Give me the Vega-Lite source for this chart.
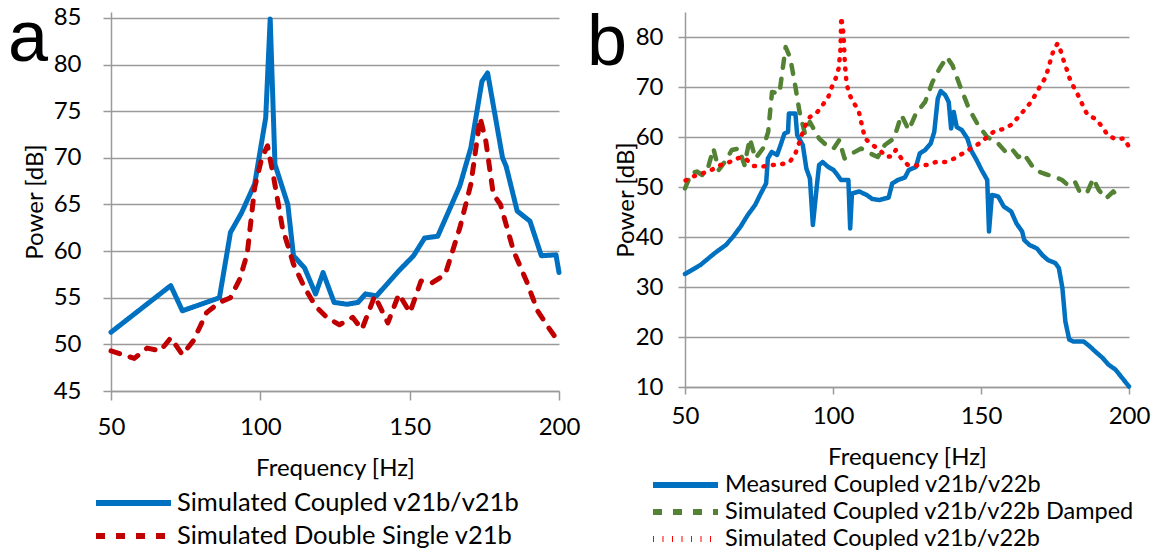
{
  "$schema": "https://vega.github.io/schema/vega-lite/v6.json",
  "background": "white",
  "padding": {"left": 7, "top": 2, "right": 5, "bottom": 5},
  "spacing": 126,
  "bounds": "flush",
  "config": {
    "view": {"stroke": null},
    "axis": {
      "labelFont": "Lato", "labelFontSize": 24, "labelColor": "#000", "labelFlush": false, "labelOverlap": false,
      "titleFont": "Lato", "titleFontSize": 24, "titleColor": "#000", "titleFontWeight": "normal",
      "domainColor": "#9a9a9a", "domainWidth": 1.5, "tickColor": "#9a9a9a", "tickWidth": 1.5, "tickSize": 8,
      "gridColor": "#9a9a9a", "gridWidth": 1.5
    },
    "legend": {
      "labelFont": "Lato", "labelFontSize": 25.5, "labelColor": "#000", "padding": 0, "labelLimit": 600
    }
  },
  "datasets": {
    "a": [
      {"f": 50, "p": 51.3, "s": "Simulated Coupled v21b/v21b"},
      {"f": 70, "p": 56.3, "s": "Simulated Coupled v21b/v21b"},
      {"f": 73.9, "p": 53.6, "s": "Simulated Coupled v21b/v21b"},
      {"f": 86.3, "p": 55.0, "s": "Simulated Coupled v21b/v21b"},
      {"f": 90.0, "p": 62.0, "s": "Simulated Coupled v21b/v21b"},
      {"f": 93.7, "p": 64.1, "s": "Simulated Coupled v21b/v21b"},
      {"f": 98.1, "p": 67.2, "s": "Simulated Coupled v21b/v21b"},
      {"f": 101.8, "p": 74.3, "s": "Simulated Coupled v21b/v21b"},
      {"f": 103.3, "p": 84.9, "s": "Simulated Coupled v21b/v21b"},
      {"f": 104.9, "p": 69.3, "s": "Simulated Coupled v21b/v21b"},
      {"f": 109.2, "p": 65.0, "s": "Simulated Coupled v21b/v21b"},
      {"f": 111.1, "p": 59.5, "s": "Simulated Coupled v21b/v21b"},
      {"f": 114.8, "p": 58.2, "s": "Simulated Coupled v21b/v21b"},
      {"f": 118.5, "p": 55.4, "s": "Simulated Coupled v21b/v21b"},
      {"f": 121.0, "p": 57.7, "s": "Simulated Coupled v21b/v21b"},
      {"f": 124.7, "p": 54.5, "s": "Simulated Coupled v21b/v21b"},
      {"f": 129.0, "p": 54.3, "s": "Simulated Coupled v21b/v21b"},
      {"f": 132.7, "p": 54.5, "s": "Simulated Coupled v21b/v21b"},
      {"f": 135.2, "p": 55.4, "s": "Simulated Coupled v21b/v21b"},
      {"f": 138.9, "p": 55.2, "s": "Simulated Coupled v21b/v21b"},
      {"f": 146.4, "p": 57.9, "s": "Simulated Coupled v21b/v21b"},
      {"f": 151.3, "p": 59.5, "s": "Simulated Coupled v21b/v21b"},
      {"f": 155.0, "p": 61.4, "s": "Simulated Coupled v21b/v21b"},
      {"f": 159.4, "p": 61.6, "s": "Simulated Coupled v21b/v21b"},
      {"f": 163.1, "p": 64.3, "s": "Simulated Coupled v21b/v21b"},
      {"f": 166.8, "p": 67.0, "s": "Simulated Coupled v21b/v21b"},
      {"f": 170.5, "p": 71.1, "s": "Simulated Coupled v21b/v21b"},
      {"f": 174.2, "p": 78.2, "s": "Simulated Coupled v21b/v21b"},
      {"f": 176.1, "p": 79.1, "s": "Simulated Coupled v21b/v21b"},
      {"f": 181.1, "p": 70.0, "s": "Simulated Coupled v21b/v21b"},
      {"f": 182.3, "p": 69.1, "s": "Simulated Coupled v21b/v21b"},
      {"f": 186.0, "p": 64.3, "s": "Simulated Coupled v21b/v21b"},
      {"f": 190.3, "p": 63.2, "s": "Simulated Coupled v21b/v21b"},
      {"f": 194.1, "p": 59.5, "s": "Simulated Coupled v21b/v21b"},
      {"f": 199.0, "p": 59.6, "s": "Simulated Coupled v21b/v21b"},
      {"f": 200, "p": 57.7, "s": "Simulated Coupled v21b/v21b"},
      {"f": 50, "p": 49.3, "s": "Simulated Double Single v21b"},
      {"f": 57.8, "p": 48.5, "s": "Simulated Double Single v21b"},
      {"f": 62.1, "p": 49.6, "s": "Simulated Double Single v21b"},
      {"f": 66.5, "p": 49.3, "s": "Simulated Double Single v21b"},
      {"f": 70.0, "p": 50.7, "s": "Simulated Double Single v21b"},
      {"f": 73.9, "p": 48.9, "s": "Simulated Double Single v21b"},
      {"f": 77.6, "p": 50.4, "s": "Simulated Double Single v21b"},
      {"f": 82.0, "p": 53.4, "s": "Simulated Double Single v21b"},
      {"f": 86.3, "p": 54.5, "s": "Simulated Double Single v21b"},
      {"f": 90.0, "p": 55.0, "s": "Simulated Double Single v21b"},
      {"f": 93.1, "p": 57.0, "s": "Simulated Double Single v21b"},
      {"f": 95.6, "p": 59.7, "s": "Simulated Double Single v21b"},
      {"f": 98.1, "p": 66.8, "s": "Simulated Double Single v21b"},
      {"f": 100.5, "p": 70.0, "s": "Simulated Double Single v21b"},
      {"f": 102.4, "p": 71.3, "s": "Simulated Double Single v21b"},
      {"f": 104.3, "p": 68.2, "s": "Simulated Double Single v21b"},
      {"f": 107.4, "p": 62.5, "s": "Simulated Double Single v21b"},
      {"f": 111.1, "p": 58.6, "s": "Simulated Double Single v21b"},
      {"f": 114.8, "p": 56.1, "s": "Simulated Double Single v21b"},
      {"f": 118.5, "p": 54.1, "s": "Simulated Double Single v21b"},
      {"f": 122.2, "p": 52.9, "s": "Simulated Double Single v21b"},
      {"f": 126.5, "p": 52.1, "s": "Simulated Double Single v21b"},
      {"f": 130.9, "p": 52.9, "s": "Simulated Double Single v21b"},
      {"f": 134.0, "p": 51.6, "s": "Simulated Double Single v21b"},
      {"f": 138.3, "p": 55.2, "s": "Simulated Double Single v21b"},
      {"f": 142.7, "p": 52.3, "s": "Simulated Double Single v21b"},
      {"f": 146.4, "p": 55.4, "s": "Simulated Double Single v21b"},
      {"f": 150.1, "p": 53.4, "s": "Simulated Double Single v21b"},
      {"f": 153.8, "p": 56.8, "s": "Simulated Double Single v21b"},
      {"f": 157.5, "p": 56.6, "s": "Simulated Double Single v21b"},
      {"f": 161.9, "p": 57.5, "s": "Simulated Double Single v21b"},
      {"f": 166.8, "p": 62.5, "s": "Simulated Double Single v21b"},
      {"f": 170.5, "p": 67.2, "s": "Simulated Double Single v21b"},
      {"f": 173.6, "p": 74.3, "s": "Simulated Double Single v21b"},
      {"f": 175.5, "p": 71.8, "s": "Simulated Double Single v21b"},
      {"f": 178.0, "p": 66.1, "s": "Simulated Double Single v21b"},
      {"f": 180.4, "p": 65.0, "s": "Simulated Double Single v21b"},
      {"f": 184.8, "p": 60.0, "s": "Simulated Double Single v21b"},
      {"f": 189.1, "p": 56.8, "s": "Simulated Double Single v21b"},
      {"f": 192.8, "p": 53.6, "s": "Simulated Double Single v21b"},
      {"f": 196.5, "p": 51.8, "s": "Simulated Double Single v21b"},
      {"f": 200, "p": 50.2, "s": "Simulated Double Single v21b"}
    ],
    "b": [
      {"f": 50, "p": 32.6, "s": "Measured Coupled v21b/v22b"},
      {"f": 55.2, "p": 34.4, "s": "Measured Coupled v21b/v22b"},
      {"f": 60.1, "p": 36.8, "s": "Measured Coupled v21b/v22b"},
      {"f": 63.8, "p": 38.4, "s": "Measured Coupled v21b/v22b"},
      {"f": 66.3, "p": 40.1, "s": "Measured Coupled v21b/v22b"},
      {"f": 68.8, "p": 42.1, "s": "Measured Coupled v21b/v22b"},
      {"f": 71.2, "p": 44.4, "s": "Measured Coupled v21b/v22b"},
      {"f": 73.7, "p": 46.4, "s": "Measured Coupled v21b/v22b"},
      {"f": 75.6, "p": 48.7, "s": "Measured Coupled v21b/v22b"},
      {"f": 77.4, "p": 50.7, "s": "Measured Coupled v21b/v22b"},
      {"f": 78.0, "p": 55.7, "s": "Measured Coupled v21b/v22b"},
      {"f": 79.3, "p": 57.0, "s": "Measured Coupled v21b/v22b"},
      {"f": 81.1, "p": 56.4, "s": "Measured Coupled v21b/v22b"},
      {"f": 82.3, "p": 58.4, "s": "Measured Coupled v21b/v22b"},
      {"f": 83.6, "p": 60.7, "s": "Measured Coupled v21b/v22b"},
      {"f": 84.8, "p": 61.0, "s": "Measured Coupled v21b/v22b"},
      {"f": 85.1, "p": 64.7, "s": "Measured Coupled v21b/v22b"},
      {"f": 87.3, "p": 64.7, "s": "Measured Coupled v21b/v22b"},
      {"f": 87.9, "p": 60.4, "s": "Measured Coupled v21b/v22b"},
      {"f": 89.8, "p": 58.4, "s": "Measured Coupled v21b/v22b"},
      {"f": 91.0, "p": 53.7, "s": "Measured Coupled v21b/v22b"},
      {"f": 92.2, "p": 51.7, "s": "Measured Coupled v21b/v22b"},
      {"f": 93.2, "p": 42.4, "s": "Measured Coupled v21b/v22b"},
      {"f": 94.7, "p": 51.1, "s": "Measured Coupled v21b/v22b"},
      {"f": 95.3, "p": 54.4, "s": "Measured Coupled v21b/v22b"},
      {"f": 96.5, "p": 55.0, "s": "Measured Coupled v21b/v22b"},
      {"f": 98.4, "p": 54.0, "s": "Measured Coupled v21b/v22b"},
      {"f": 100.2, "p": 53.4, "s": "Measured Coupled v21b/v22b"},
      {"f": 101.5, "p": 52.4, "s": "Measured Coupled v21b/v22b"},
      {"f": 102.7, "p": 51.4, "s": "Measured Coupled v21b/v22b"},
      {"f": 105.2, "p": 51.4, "s": "Measured Coupled v21b/v22b"},
      {"f": 105.8, "p": 41.7, "s": "Measured Coupled v21b/v22b"},
      {"f": 106.4, "p": 48.7, "s": "Measured Coupled v21b/v22b"},
      {"f": 108.9, "p": 49.1, "s": "Measured Coupled v21b/v22b"},
      {"f": 111.4, "p": 48.4, "s": "Measured Coupled v21b/v22b"},
      {"f": 113.3, "p": 47.6, "s": "Measured Coupled v21b/v22b"},
      {"f": 115.7, "p": 47.4, "s": "Measured Coupled v21b/v22b"},
      {"f": 118.8, "p": 47.9, "s": "Measured Coupled v21b/v22b"},
      {"f": 120.0, "p": 50.7, "s": "Measured Coupled v21b/v22b"},
      {"f": 121.9, "p": 51.4, "s": "Measured Coupled v21b/v22b"},
      {"f": 124.3, "p": 51.9, "s": "Measured Coupled v21b/v22b"},
      {"f": 125.6, "p": 53.4, "s": "Measured Coupled v21b/v22b"},
      {"f": 128.0, "p": 54.0, "s": "Measured Coupled v21b/v22b"},
      {"f": 129.3, "p": 56.7, "s": "Measured Coupled v21b/v22b"},
      {"f": 131.1, "p": 57.4, "s": "Measured Coupled v21b/v22b"},
      {"f": 133.0, "p": 58.7, "s": "Measured Coupled v21b/v22b"},
      {"f": 134.2, "p": 61.0, "s": "Measured Coupled v21b/v22b"},
      {"f": 135.4, "p": 67.7, "s": "Measured Coupled v21b/v22b"},
      {"f": 136.4, "p": 69.2, "s": "Measured Coupled v21b/v22b"},
      {"f": 137.9, "p": 68.4, "s": "Measured Coupled v21b/v22b"},
      {"f": 139.1, "p": 67.0, "s": "Measured Coupled v21b/v22b"},
      {"f": 139.9, "p": 61.7, "s": "Measured Coupled v21b/v22b"},
      {"f": 140.8, "p": 65.0, "s": "Measured Coupled v21b/v22b"},
      {"f": 141.8, "p": 62.0, "s": "Measured Coupled v21b/v22b"},
      {"f": 143.5, "p": 61.4, "s": "Measured Coupled v21b/v22b"},
      {"f": 145.4, "p": 59.7, "s": "Measured Coupled v21b/v22b"},
      {"f": 146.6, "p": 57.4, "s": "Measured Coupled v21b/v22b"},
      {"f": 148.5, "p": 55.4, "s": "Measured Coupled v21b/v22b"},
      {"f": 150.2, "p": 53.4, "s": "Measured Coupled v21b/v22b"},
      {"f": 152.1, "p": 51.4, "s": "Measured Coupled v21b/v22b"},
      {"f": 152.7, "p": 41.1, "s": "Measured Coupled v21b/v22b"},
      {"f": 153.7, "p": 48.4, "s": "Measured Coupled v21b/v22b"},
      {"f": 155.8, "p": 48.1, "s": "Measured Coupled v21b/v22b"},
      {"f": 157.7, "p": 46.1, "s": "Measured Coupled v21b/v22b"},
      {"f": 160.2, "p": 45.1, "s": "Measured Coupled v21b/v22b"},
      {"f": 162.0, "p": 42.7, "s": "Measured Coupled v21b/v22b"},
      {"f": 163.9, "p": 41.1, "s": "Measured Coupled v21b/v22b"},
      {"f": 164.6, "p": 39.4, "s": "Measured Coupled v21b/v22b"},
      {"f": 166.4, "p": 38.4, "s": "Measured Coupled v21b/v22b"},
      {"f": 168.9, "p": 37.7, "s": "Measured Coupled v21b/v22b"},
      {"f": 170.7, "p": 36.4, "s": "Measured Coupled v21b/v22b"},
      {"f": 172.6, "p": 35.4, "s": "Measured Coupled v21b/v22b"},
      {"f": 175.1, "p": 34.8, "s": "Measured Coupled v21b/v22b"},
      {"f": 176.3, "p": 33.8, "s": "Measured Coupled v21b/v22b"},
      {"f": 177.5, "p": 29.8, "s": "Measured Coupled v21b/v22b"},
      {"f": 178.5, "p": 23.1, "s": "Measured Coupled v21b/v22b"},
      {"f": 179.8, "p": 19.5, "s": "Measured Coupled v21b/v22b"},
      {"f": 181.2, "p": 19.1, "s": "Measured Coupled v21b/v22b"},
      {"f": 184.7, "p": 19.1, "s": "Measured Coupled v21b/v22b"},
      {"f": 186.8, "p": 18.1, "s": "Measured Coupled v21b/v22b"},
      {"f": 188.6, "p": 17.1, "s": "Measured Coupled v21b/v22b"},
      {"f": 191.1, "p": 15.8, "s": "Measured Coupled v21b/v22b"},
      {"f": 193.0, "p": 14.5, "s": "Measured Coupled v21b/v22b"},
      {"f": 195.4, "p": 13.5, "s": "Measured Coupled v21b/v22b"},
      {"f": 197.3, "p": 12.1, "s": "Measured Coupled v21b/v22b"},
      {"f": 200, "p": 10.1, "s": "Measured Coupled v21b/v22b"},
      {"f": 50, "p": 49.7, "s": "Simulated Coupled v21b/v22b Damped"},
      {"f": 52.1, "p": 52.7, "s": "Simulated Coupled v21b/v22b Damped"},
      {"f": 54.0, "p": 53.1, "s": "Simulated Coupled v21b/v22b Damped"},
      {"f": 55.8, "p": 52.4, "s": "Simulated Coupled v21b/v22b Damped"},
      {"f": 57.7, "p": 53.7, "s": "Simulated Coupled v21b/v22b Damped"},
      {"f": 59.6, "p": 57.7, "s": "Simulated Coupled v21b/v22b Damped"},
      {"f": 61.4, "p": 53.4, "s": "Simulated Coupled v21b/v22b Damped"},
      {"f": 63.9, "p": 55.4, "s": "Simulated Coupled v21b/v22b Damped"},
      {"f": 65.8, "p": 57.4, "s": "Simulated Coupled v21b/v22b Damped"},
      {"f": 68.2, "p": 57.7, "s": "Simulated Coupled v21b/v22b Damped"},
      {"f": 70.1, "p": 54.4, "s": "Simulated Coupled v21b/v22b Damped"},
      {"f": 71.9, "p": 59.7, "s": "Simulated Coupled v21b/v22b Damped"},
      {"f": 73.8, "p": 55.7, "s": "Simulated Coupled v21b/v22b Damped"},
      {"f": 76.3, "p": 57.7, "s": "Simulated Coupled v21b/v22b Damped"},
      {"f": 78.1, "p": 61.0, "s": "Simulated Coupled v21b/v22b Damped"},
      {"f": 79.4, "p": 69.0, "s": "Simulated Coupled v21b/v22b Damped"},
      {"f": 81.9, "p": 68.7, "s": "Simulated Coupled v21b/v22b Damped"},
      {"f": 84.0, "p": 78.0, "s": "Simulated Coupled v21b/v22b Damped"},
      {"f": 85.6, "p": 75.7, "s": "Simulated Coupled v21b/v22b Damped"},
      {"f": 87.4, "p": 69.7, "s": "Simulated Coupled v21b/v22b Damped"},
      {"f": 88.7, "p": 65.0, "s": "Simulated Coupled v21b/v22b Damped"},
      {"f": 90.5, "p": 60.7, "s": "Simulated Coupled v21b/v22b Damped"},
      {"f": 92.2, "p": 63.0, "s": "Simulated Coupled v21b/v22b Damped"},
      {"f": 95.3, "p": 59.7, "s": "Simulated Coupled v21b/v22b Damped"},
      {"f": 98.4, "p": 58.0, "s": "Simulated Coupled v21b/v22b Damped"},
      {"f": 100.2, "p": 57.7, "s": "Simulated Coupled v21b/v22b Damped"},
      {"f": 102.1, "p": 59.4, "s": "Simulated Coupled v21b/v22b Damped"},
      {"f": 103.9, "p": 55.7, "s": "Simulated Coupled v21b/v22b Damped"},
      {"f": 106.4, "p": 56.7, "s": "Simulated Coupled v21b/v22b Damped"},
      {"f": 109.5, "p": 57.7, "s": "Simulated Coupled v21b/v22b Damped"},
      {"f": 112.6, "p": 56.7, "s": "Simulated Coupled v21b/v22b Damped"},
      {"f": 115.1, "p": 56.0, "s": "Simulated Coupled v21b/v22b Damped"},
      {"f": 117.5, "p": 58.4, "s": "Simulated Coupled v21b/v22b Damped"},
      {"f": 120.6, "p": 59.7, "s": "Simulated Coupled v21b/v22b Damped"},
      {"f": 123.1, "p": 64.4, "s": "Simulated Coupled v21b/v22b Damped"},
      {"f": 125.6, "p": 61.4, "s": "Simulated Coupled v21b/v22b Damped"},
      {"f": 128.0, "p": 64.7, "s": "Simulated Coupled v21b/v22b Damped"},
      {"f": 131.1, "p": 67.0, "s": "Simulated Coupled v21b/v22b Damped"},
      {"f": 133.6, "p": 71.0, "s": "Simulated Coupled v21b/v22b Damped"},
      {"f": 136.0, "p": 73.7, "s": "Simulated Coupled v21b/v22b Damped"},
      {"f": 138.5, "p": 76.0, "s": "Simulated Coupled v21b/v22b Damped"},
      {"f": 140.4, "p": 74.3, "s": "Simulated Coupled v21b/v22b Damped"},
      {"f": 142.8, "p": 70.4, "s": "Simulated Coupled v21b/v22b Damped"},
      {"f": 145.9, "p": 65.7, "s": "Simulated Coupled v21b/v22b Damped"},
      {"f": 149.0, "p": 62.4, "s": "Simulated Coupled v21b/v22b Damped"},
      {"f": 152.1, "p": 60.0, "s": "Simulated Coupled v21b/v22b Damped"},
      {"f": 155.8, "p": 58.7, "s": "Simulated Coupled v21b/v22b Damped"},
      {"f": 158.8, "p": 56.7, "s": "Simulated Coupled v21b/v22b Damped"},
      {"f": 160.7, "p": 57.4, "s": "Simulated Coupled v21b/v22b Damped"},
      {"f": 162.6, "p": 56.0, "s": "Simulated Coupled v21b/v22b Damped"},
      {"f": 164.4, "p": 56.7, "s": "Simulated Coupled v21b/v22b Damped"},
      {"f": 168.2, "p": 53.4, "s": "Simulated Coupled v21b/v22b Damped"},
      {"f": 171.2, "p": 52.7, "s": "Simulated Coupled v21b/v22b Damped"},
      {"f": 174.9, "p": 52.0, "s": "Simulated Coupled v21b/v22b Damped"},
      {"f": 177.4, "p": 51.4, "s": "Simulated Coupled v21b/v22b Damped"},
      {"f": 179.3, "p": 50.4, "s": "Simulated Coupled v21b/v22b Damped"},
      {"f": 181.7, "p": 51.1, "s": "Simulated Coupled v21b/v22b Damped"},
      {"f": 183.6, "p": 48.7, "s": "Simulated Coupled v21b/v22b Damped"},
      {"f": 186.0, "p": 49.1, "s": "Simulated Coupled v21b/v22b Damped"},
      {"f": 187.9, "p": 51.7, "s": "Simulated Coupled v21b/v22b Damped"},
      {"f": 189.8, "p": 49.4, "s": "Simulated Coupled v21b/v22b Damped"},
      {"f": 192.2, "p": 47.7, "s": "Simulated Coupled v21b/v22b Damped"},
      {"f": 194.7, "p": 49.1, "s": "Simulated Coupled v21b/v22b Damped"},
      {"f": 197.2, "p": 47.4, "s": "Simulated Coupled v21b/v22b Damped"},
      {"f": 50.2, "p": 51.3, "s": "Simulated Coupled v21b/v22b"},
      {"f": 52.7, "p": 52.1, "s": "Simulated Coupled v21b/v22b"},
      {"f": 55.8, "p": 52.7, "s": "Simulated Coupled v21b/v22b"},
      {"f": 58.9, "p": 53.4, "s": "Simulated Coupled v21b/v22b"},
      {"f": 62.0, "p": 54.4, "s": "Simulated Coupled v21b/v22b"},
      {"f": 65.1, "p": 55.0, "s": "Simulated Coupled v21b/v22b"},
      {"f": 68.1, "p": 55.8, "s": "Simulated Coupled v21b/v22b"},
      {"f": 70.6, "p": 55.6, "s": "Simulated Coupled v21b/v22b"},
      {"f": 73.1, "p": 54.2, "s": "Simulated Coupled v21b/v22b"},
      {"f": 76.2, "p": 54.1, "s": "Simulated Coupled v21b/v22b"},
      {"f": 79.3, "p": 54.4, "s": "Simulated Coupled v21b/v22b"},
      {"f": 82.3, "p": 54.5, "s": "Simulated Coupled v21b/v22b"},
      {"f": 85.4, "p": 55.0, "s": "Simulated Coupled v21b/v22b"},
      {"f": 87.3, "p": 56.7, "s": "Simulated Coupled v21b/v22b"},
      {"f": 88.5, "p": 58.7, "s": "Simulated Coupled v21b/v22b"},
      {"f": 90.4, "p": 62.0, "s": "Simulated Coupled v21b/v22b"},
      {"f": 92.2, "p": 64.0, "s": "Simulated Coupled v21b/v22b"},
      {"f": 94.7, "p": 65.0, "s": "Simulated Coupled v21b/v22b"},
      {"f": 96.5, "p": 66.4, "s": "Simulated Coupled v21b/v22b"},
      {"f": 98.4, "p": 68.0, "s": "Simulated Coupled v21b/v22b"},
      {"f": 99.6, "p": 70.0, "s": "Simulated Coupled v21b/v22b"},
      {"f": 100.9, "p": 71.7, "s": "Simulated Coupled v21b/v22b"},
      {"f": 101.9, "p": 73.7, "s": "Simulated Coupled v21b/v22b"},
      {"f": 102.5, "p": 77.3, "s": "Simulated Coupled v21b/v22b"},
      {"f": 102.8, "p": 84.0, "s": "Simulated Coupled v21b/v22b"},
      {"f": 103.6, "p": 80.3, "s": "Simulated Coupled v21b/v22b"},
      {"f": 104.0, "p": 74.7, "s": "Simulated Coupled v21b/v22b"},
      {"f": 104.6, "p": 70.7, "s": "Simulated Coupled v21b/v22b"},
      {"f": 105.4, "p": 68.7, "s": "Simulated Coupled v21b/v22b"},
      {"f": 106.8, "p": 67.0, "s": "Simulated Coupled v21b/v22b"},
      {"f": 108.6, "p": 65.4, "s": "Simulated Coupled v21b/v22b"},
      {"f": 110.8, "p": 59.7, "s": "Simulated Coupled v21b/v22b"},
      {"f": 113.2, "p": 58.5, "s": "Simulated Coupled v21b/v22b"},
      {"f": 115.7, "p": 57.4, "s": "Simulated Coupled v21b/v22b"},
      {"f": 118.1, "p": 56.0, "s": "Simulated Coupled v21b/v22b"},
      {"f": 120.0, "p": 56.2, "s": "Simulated Coupled v21b/v22b"},
      {"f": 121.2, "p": 57.4, "s": "Simulated Coupled v21b/v22b"},
      {"f": 123.1, "p": 55.7, "s": "Simulated Coupled v21b/v22b"},
      {"f": 125.3, "p": 54.4, "s": "Simulated Coupled v21b/v22b"},
      {"f": 128.6, "p": 54.3, "s": "Simulated Coupled v21b/v22b"},
      {"f": 131.7, "p": 54.4, "s": "Simulated Coupled v21b/v22b"},
      {"f": 134.8, "p": 55.0, "s": "Simulated Coupled v21b/v22b"},
      {"f": 137.9, "p": 55.0, "s": "Simulated Coupled v21b/v22b"},
      {"f": 141.0, "p": 55.7, "s": "Simulated Coupled v21b/v22b"},
      {"f": 143.8, "p": 56.7, "s": "Simulated Coupled v21b/v22b"},
      {"f": 146.6, "p": 57.7, "s": "Simulated Coupled v21b/v22b"},
      {"f": 149.4, "p": 58.7, "s": "Simulated Coupled v21b/v22b"},
      {"f": 152.1, "p": 60.0, "s": "Simulated Coupled v21b/v22b"},
      {"f": 154.6, "p": 61.2, "s": "Simulated Coupled v21b/v22b"},
      {"f": 157.7, "p": 61.6, "s": "Simulated Coupled v21b/v22b"},
      {"f": 160.4, "p": 62.5, "s": "Simulated Coupled v21b/v22b"},
      {"f": 162.6, "p": 64.0, "s": "Simulated Coupled v21b/v22b"},
      {"f": 164.8, "p": 65.5, "s": "Simulated Coupled v21b/v22b"},
      {"f": 166.9, "p": 67.0, "s": "Simulated Coupled v21b/v22b"},
      {"f": 168.5, "p": 68.6, "s": "Simulated Coupled v21b/v22b"},
      {"f": 170.2, "p": 70.4, "s": "Simulated Coupled v21b/v22b"},
      {"f": 171.9, "p": 72.0, "s": "Simulated Coupled v21b/v22b"},
      {"f": 172.8, "p": 73.9, "s": "Simulated Coupled v21b/v22b"},
      {"f": 173.7, "p": 75.8, "s": "Simulated Coupled v21b/v22b"},
      {"f": 174.7, "p": 77.7, "s": "Simulated Coupled v21b/v22b"},
      {"f": 175.9, "p": 78.7, "s": "Simulated Coupled v21b/v22b"},
      {"f": 177.2, "p": 76.8, "s": "Simulated Coupled v21b/v22b"},
      {"f": 178.1, "p": 74.9, "s": "Simulated Coupled v21b/v22b"},
      {"f": 179.3, "p": 73.0, "s": "Simulated Coupled v21b/v22b"},
      {"f": 180.2, "p": 71.2, "s": "Simulated Coupled v21b/v22b"},
      {"f": 181.7, "p": 69.6, "s": "Simulated Coupled v21b/v22b"},
      {"f": 183.3, "p": 67.8, "s": "Simulated Coupled v21b/v22b"},
      {"f": 184.6, "p": 66.0, "s": "Simulated Coupled v21b/v22b"},
      {"f": 186.0, "p": 64.4, "s": "Simulated Coupled v21b/v22b"},
      {"f": 188.8, "p": 63.6, "s": "Simulated Coupled v21b/v22b"},
      {"f": 191.0, "p": 62.0, "s": "Simulated Coupled v21b/v22b"},
      {"f": 192.8, "p": 60.4, "s": "Simulated Coupled v21b/v22b"},
      {"f": 195.3, "p": 59.6, "s": "Simulated Coupled v21b/v22b"},
      {"f": 198.4, "p": 59.7, "s": "Simulated Coupled v21b/v22b"},
      {"f": 200, "p": 58.0, "s": "Simulated Coupled v21b/v22b"}
    ]
  },
  "hconcat": [
    {
      "width": 448,
      "height": 379,
      "layer": [
        {
          "data": {"name": "a"},
          "mark": {"type": "line", "strokeWidth": 5, "strokeJoin": "round", "strokeCap": "round", "clip": false},
          "encoding": {
            "x": {"field": "f", "type": "quantitative", "scale": {"domain": [50, 200], "nice": false, "zero": false},
              "axis": {"values": [50, 100, 150, 200], "grid": false, "title": "Frequency [Hz]", "labelPadding": 15, "titlePadding": 17, "tickSize": 9}},
            "y": {"field": "p", "type": "quantitative", "scale": {"domain": [45, 85.64], "nice": false, "zero": false},
              "axis": {"values": [45, 50, 55, 60, 65, 70, 75, 80, 85], "grid": true, "title": "Power [dB]", "labelPadding": 22, "titlePadding": 6}},
            "color": {"field": "s", "type": "nominal",
              "scale": {"domain": ["Simulated Coupled v21b/v21b", "Simulated Double Single v21b"], "range": ["#0070C0", "#C00000"]},
              "legend": {"title": null, "orient": "none", "legendX": 9.5, "legendY": 478, "direction": "vertical", "symbolType": "M-3.75,0H3.75", "symbolSize": 400, "symbolStrokeWidth": 6, "rowPadding": 6, "labelOffset": 30.5}},
            "strokeDash": {"field": "s", "type": "nominal",
              "scale": {"domain": ["Simulated Coupled v21b/v21b", "Simulated Double Single v21b"], "range": [[1, 0], [9, 11]]},
              "legend": {"title": null, "orient": "none", "legendX": 9.5, "legendY": 478, "direction": "vertical", "symbolType": "M-3.75,0H3.75", "symbolSize": 400, "symbolStrokeWidth": 6, "rowPadding": 6, "labelOffset": 30.5}}
          }
        },
        {
          "data": {"values": [{"label": "a", "f": 15.5, "p": 80.39}]},
          "mark": {"type": "text", "fontSize": 72, "font": "Liberation Sans", "align": "left", "baseline": "alphabetic", "color": "#000", "clip": false},
          "encoding": {
            "x": {"field": "f", "type": "quantitative"},
            "y": {"field": "p", "type": "quantitative"},
            "text": {"field": "label"}
          }
        }
      ]
    },
    {
      "width": 444,
      "height": 375,
      "layer": [
        {
          "data": {"name": "b"},
          "mark": {"type": "line", "strokeWidth": 4.5, "strokeJoin": "round", "strokeCap": "round", "clip": false},
          "encoding": {
            "x": {"field": "f", "type": "quantitative", "scale": {"domain": [50, 200], "nice": false, "zero": false},
              "axis": {"values": [50, 100, 150, 200], "grid": false, "title": "Frequency [Hz]", "labelPadding": 10, "titlePadding": 17, "tickSize": 7}},
            "y": {"field": "p", "type": "quantitative", "scale": {"domain": [10, 85], "nice": false, "zero": false},
              "axis": {"values": [10, 20, 30, 40, 50, 60, 70, 80], "grid": true, "title": "Power [dB]", "labelPadding": 15, "titlePadding": -3, "tickSize": 7}},
            "color": {"field": "s", "type": "nominal",
              "scale": {"domain": ["Measured Coupled v21b/v22b", "Simulated Coupled v21b/v22b Damped", "Simulated Coupled v21b/v22b"], "range": ["#0070C0", "#548235", "#FF0000"]},
              "legend": {"title": null, "orient": "none", "legendX": -12.5, "legendY": 460, "direction": "vertical", "symbolType": "M-3.25,0H3.25", "symbolSize": 400, "symbolStrokeWidth": 6, "rowPadding": 2, "labelOffset": 26.5, "labelFontSize": 23.5}},
            "strokeDash": {"field": "s", "type": "nominal",
              "scale": {"domain": ["Measured Coupled v21b/v22b", "Simulated Coupled v21b/v22b Damped", "Simulated Coupled v21b/v22b"], "range": [[1, 0], [9, 11], [1, 8.5]]},
              "legend": {"title": null, "orient": "none", "legendX": -12.5, "legendY": 460, "direction": "vertical", "symbolType": "M-3.25,0H3.25", "symbolSize": 400, "symbolStrokeWidth": 6, "rowPadding": 2, "labelOffset": 26.5, "labelFontSize": 23.5}}
          }
        },
        {
          "data": {"values": [{"label": "b", "f": 16.9, "p": 74.4}]},
          "mark": {"type": "text", "fontSize": 72, "font": "Liberation Sans", "align": "left", "baseline": "alphabetic", "color": "#000", "clip": false},
          "encoding": {
            "x": {"field": "f", "type": "quantitative"},
            "y": {"field": "p", "type": "quantitative"},
            "text": {"field": "label"}
          }
        }
      ]
    }
  ],
  "resolve": {"scale": {"color": "independent", "strokeDash": "independent"}, "legend": {"color": "independent", "strokeDash": "independent"}}
}
